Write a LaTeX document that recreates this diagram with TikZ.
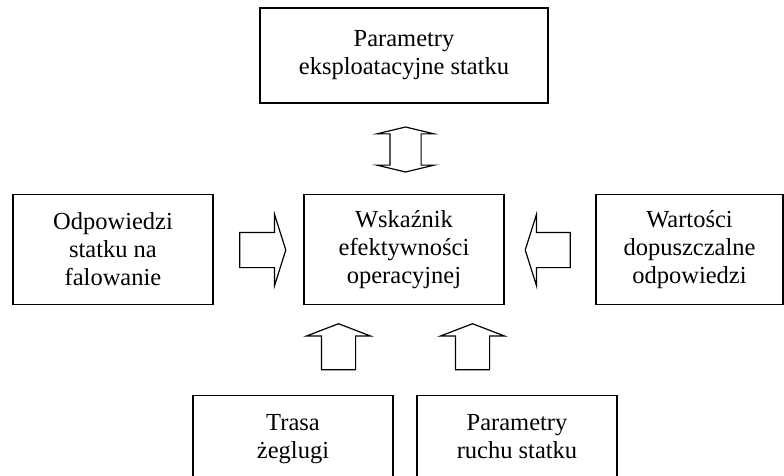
\documentclass[tikz,border=0pt]{standalone}
\usepackage{fontspec}
\setmainfont{Liberation Serif}
\usetikzlibrary{shapes.arrows}

\tikzset{
  box/.style={draw, line width=1.2pt, align=center, inner sep=0pt,
    font=\fontsize{24.5}{28}\selectfont},
  fat/.style={draw, line width=1.2pt, inner xsep=0pt, inner ysep=17pt,
    minimum width=0pt}
}

\begin{document}
\begin{tikzpicture}[x=1pt,y=-1pt]
    \useasboundingbox (0,0) rectangle (784,475);
    \clip (0,0) rectangle (784,475);
    \node[box, minimum width=288pt, minimum height=95pt] (par) at (404,55.5) {Parametry\\eksploatacyjne statku};
    \node[box, minimum width=200pt, minimum height=110pt] (odp) at (113,249.5) {Odpowiedzi\\statku na\\falowanie};
    \node[box, minimum width=200pt, minimum height=110pt] (wsk) at (404,249.5) {Wskaźnik\\efektywności\\operacyjnej};
    \node[box, minimum width=187pt, minimum height=110pt] (war) at (689.5,249.5) {Wartości\\dopuszczalne\\odpowiedzi};
    \node[box, minimum width=200pt, anchor=north, inner ysep=19pt, text depth=60pt] (tra) at (293,395) {Trasa\\żeglugi};
    \node[box, minimum width=200pt, anchor=north, inner ysep=19pt, text depth=60pt] (ruch) at (517,395) {Parametry\\ruchu statku};
    \node[fat, double arrow, double arrow head extend=13pt, double arrow tip angle=153,
      minimum height=45pt, rotate=90, inner ysep=15pt] (dw) at (405.5,149.5) {};
    \node[fat, single arrow, single arrow head extend=18pt, single arrow tip angle=145,
      minimum height=46pt] (pr) at (260,250) {};
    \node[fat, single arrow, single arrow head extend=18pt, single arrow tip angle=145,
      minimum height=45pt, rotate=180] (lw) at (550.5,250) {};
    \node[fat, single arrow, single arrow head extend=15pt, single arrow tip angle=138,
      minimum height=46pt, rotate=90, inner ysep=16.5pt] (g1) at (338.5,350) {};
    \node[fat, single arrow, single arrow head extend=15pt, single arrow tip angle=138,
      minimum height=46pt, rotate=90, inner ysep=16.5pt] (g2) at (472.5,350) {};
\end{tikzpicture}
\end{document}
